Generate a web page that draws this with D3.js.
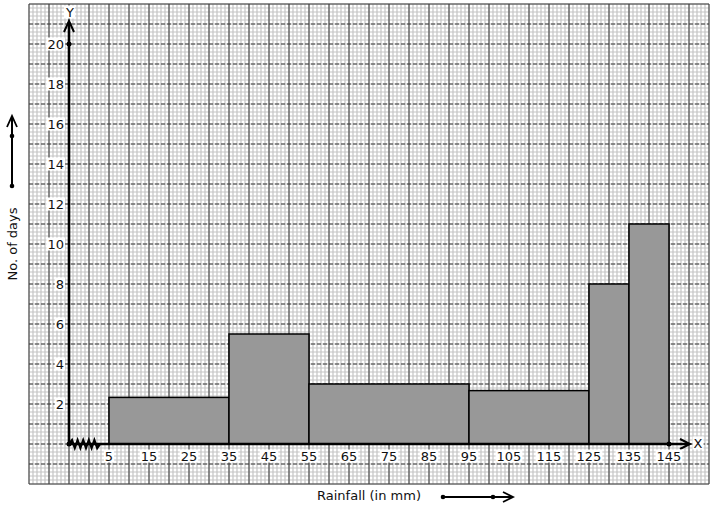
<!DOCTYPE html>
<html><head><meta charset="utf-8">
<script src="https://cdn.jsdelivr.net/npm/d3@7"></script>
<style>body{margin:0;background:#fff}svg{display:block}</style>
</head><body>
<svg id="c" width="714" height="510"></svg>
<script>
// Data
const classStart = [5, 35, 55, 95, 125, 135];
const classEnd   = [35, 55, 95, 125, 135, 145];
const density    = [2.33, 5.5, 3, 2.67, 8, 11];
const xTicks = [5, 15, 25, 35, 45, 55, 65, 75, 85, 95, 105, 115, 125, 135, 145];
const yTicks = [2, 4, 6, 8, 10, 12, 14, 16, 18, 20];

const svg = d3.select("#c");
const x = d3.scaleLinear().domain([5, 145]).range([109, 669]);
const y = d3.scaleLinear().domain([0, 20]).range([444, 44]);
const font = "DejaVu Sans, sans-serif";

// graph paper
const g = svg.append("g");
const minorX = d3.range(-15, 155.01, 1);
const minorY = d3.range(-2, 22.01, 0.2);
g.selectAll(".mx").data(minorX).join("line")
  .attr("x1", d => x(d)).attr("x2", d => x(d)).attr("y1", y(22)).attr("y2", y(-2))
  .attr("stroke", "#c4c4c4").attr("stroke-width", 1.2);
g.selectAll(".my").data(minorY).join("line")
  .attr("y1", d => y(d)).attr("y2", d => y(d)).attr("x1", x(-15)).attr("x2", x(155))
  .attr("stroke", "#c4c4c4").attr("stroke-width", 1.2);
const majorX = d3.range(-15, 155.01, 5);
const majorY = d3.range(-2, 22.01, 1);
g.selectAll(".Mx").data(majorX).join("line")
  .attr("x1", d => x(d)).attr("x2", d => x(d)).attr("y1", y(22)).attr("y2", y(-2))
  .attr("stroke", "#3a3a3a").attr("stroke-width", 1);
g.selectAll(".My").data(majorY).join("line")
  .attr("y1", d => y(d)).attr("y2", d => y(d)).attr("x1", x(-15)).attr("x2", x(155))
  .attr("stroke", "#3a3a3a").attr("stroke-width", 1)
  .attr("stroke-dasharray", (d, i) => (d === 22 || d === -2) ? null : "4,2");

// bars
const bars = classStart.map((s, i) => ({s, e: classEnd[i], v: density[i]}));
svg.selectAll(".bar").data(bars).join("rect")
  .attr("x", d => x(d.s)).attr("width", d => x(d.e) - x(d.s))
  .attr("y", d => y(d.v)).attr("height", d => y(0) - y(d.v))
  .attr("fill", "#989898").attr("stroke", "#000").attr("stroke-width", 1.5);

const ox = x(-5), oy = y(0);
// axes
svg.append("line").attr("x1", ox).attr("x2", 689).attr("y1", oy).attr("y2", oy)
  .attr("stroke", "#000").attr("stroke-width", 2.6);
svg.append("line").attr("x1", ox).attr("x2", ox).attr("y1", oy).attr("y2", 22)
  .attr("stroke", "#000").attr("stroke-width", 2.6);
// arrowheads
svg.append("path").attr("d", `M680,439 L690,444 L680,449`).attr("fill", "none")
  .attr("stroke", "#000").attr("stroke-width", 2);
svg.append("path").attr("d", `M${ox-5},32 L${ox},21 L${ox+5},32`).attr("fill", "none")
  .attr("stroke", "#000").attr("stroke-width", 2);
// zigzag break
let zz = `M${ox},${oy}`;
const zStart = 72, zStep = 2.8;
for (let k = 0; k < 10; k++) {
  zz += ` L${zStart + k * zStep},${oy + (k % 2 ? 4 : -4)}`;
}
zz += ` L${zStart + 10 * zStep},${oy}`;
svg.append("path").attr("d", zz).attr("fill", "none").attr("stroke", "#000").attr("stroke-width", 2.2);
// dots
[[ox, oy], [x(145), oy], [ox, y(20)]].forEach(p =>
  svg.append("circle").attr("cx", p[0]).attr("cy", p[1]).attr("r", 2.5).attr("fill", "#000"));

// labels with white bg
function label(tx, ty, text, anchor, size) {
  const t = svg.append("text").attr("x", tx).attr("y", ty).attr("text-anchor", anchor)
    .attr("dominant-baseline", "central").attr("font-family", font).attr("font-size", size || 13)
    .attr("fill", "#111").text(text);
  const b = t.node().getBBox();
  svg.insert("rect", () => t.node()).attr("x", b.x - 1).attr("y", b.y + 1)
    .attr("width", b.width + 2).attr("height", b.height - 2).attr("fill", "#fff");
}
yTicks.forEach(v => label(ox - 5, y(v), v, "end"));
xTicks.forEach(v => label(x(v), 456, v, "middle"));
label(ox + 1, 12, "Y", "middle");
label(698, 443, "X", "middle");

// axis titles
svg.append("text").attr("transform", "translate(17,244) rotate(-90)")
  .attr("text-anchor", "middle").attr("font-family", font).attr("font-size", 13)
  .attr("fill", "#111").text("No. of days");
svg.append("text").attr("x", 369).attr("y", 500).attr("text-anchor", "middle")
  .attr("font-family", font).attr("font-size", 13).attr("fill", "#111").text("Rainfall (in mm)");

// direction arrows
svg.append("line").attr("x1", 12).attr("x2", 12).attr("y1", 186).attr("y2", 117)
  .attr("stroke", "#000").attr("stroke-width", 2);
svg.append("path").attr("d", "M7,127 L12,116 L17,127").attr("fill", "none").attr("stroke", "#000").attr("stroke-width", 1.8);
[[12, 186], [12, 136]].forEach(p => svg.append("circle").attr("cx", p[0]).attr("cy", p[1]).attr("r", 2.3).attr("fill", "#000"));
svg.append("line").attr("x1", 443).attr("x2", 513).attr("y1", 497).attr("y2", 497)
  .attr("stroke", "#000").attr("stroke-width", 2);
svg.append("path").attr("d", "M503,492 L513,497 L503,502").attr("fill", "none").attr("stroke", "#000").attr("stroke-width", 1.8);
[[443, 497], [493, 497]].forEach(p => svg.append("circle").attr("cx", p[0]).attr("cy", p[1]).attr("r", 2.3).attr("fill", "#000"));
</script>
</body></html>
